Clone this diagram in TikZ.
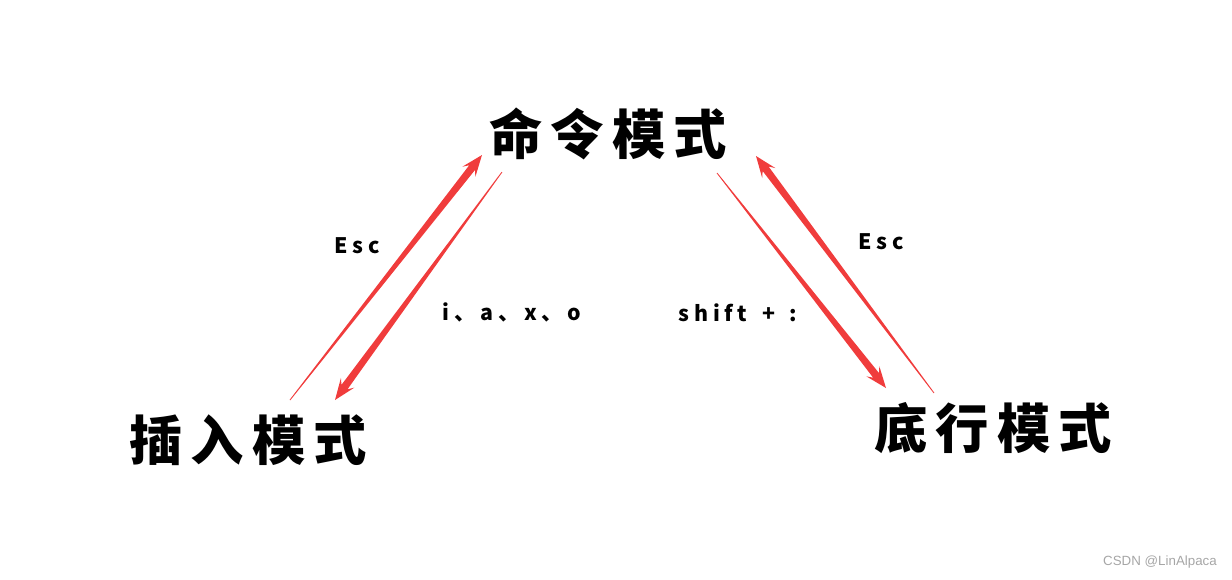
\documentclass[tikz,border=0pt]{standalone}
\usepackage{fontspec}
\setmainfont{Liberation Sans}
\newfontfamily\cjkbig[LetterSpace=15]{Noto Sans CJK SC}
\newfontfamily\cjksmall[LetterSpace=22]{Noto Sans CJK SC}
\usetikzlibrary{calc, positioning}
\definecolor{arrowred}{RGB}{240, 60, 60}

% tapering red arrow: thin at #1, head at #2
\newcommand\wedgearrow[2]{%
  \path (#1) coordinate (wa) (#2) coordinate (wb);
  \path ($(wb)!16pt!(wa)$) coordinate (wo) ($(wb)!12pt!(wa)$) coordinate (wi);
  \fill[arrowred] ($(wa)!0.3pt!90:(wb)$) -- ($(wi)!2.8pt!-90:(wa)$) -- ($(wo)!6.2pt!-90:(wa)$)
    -- (wb) -- ($(wo)!6.2pt!90:(wa)$) -- ($(wi)!2.8pt!90:(wa)$) -- ($(wa)!0.3pt!-90:(wb)$) -- cycle;
}

\begin{document}
\begin{tikzpicture}[x=0.75pt, y=-0.75pt,
    mode/.style={font=\cjkbig\bfseries\fontsize{40}{44}\selectfont, inner sep=0pt},
    keys/.style={font=\cjksmall\bfseries\fontsize{16}{19}\selectfont, inner sep=0pt}]
    \useasboundingbox (0,0) rectangle (1232,579);

    % mode nodes
    \node (cmd) [mode] at (608,134) {命令模式};
    \node (ins) [mode] at (248,440) {插入模式};
    \node (bot) [mode] at (993,428) {底行模式};

    % arrow ends
    \coordinate (insA) at (290,400);
    \coordinate (cmdA) at (482,155);
    \coordinate (cmdB) at (502,172);
    \coordinate (insB) at (335,400);
    \coordinate (cmdC) at (717,173);
    \coordinate (botC) at (886,388);
    \coordinate (botD) at (934,393);
    \coordinate (cmdD) at (756,156);

    \wedgearrow{insA}{cmdA}
    \wedgearrow{cmdB}{insB}
    \wedgearrow{cmdC}{botC}
    \wedgearrow{botD}{cmdD}

    % key labels
    \node (esc1) [keys] at (357,246) {Esc};
    \node (iaxo) [keys] at (512,312) {i、a、x、o};
    \node (shft) [keys] at (738,313) {shift\kern11pt+\kern11pt:};
    \node (esc2) [keys] at (881,242) {Esc};

    \node (mark) [font=\fontsize{10}{12}\selectfont, text=gray!70, inner sep=0pt] at (1160,562) {CSDN @LinAlpaca};
\end{tikzpicture}
\end{document}
